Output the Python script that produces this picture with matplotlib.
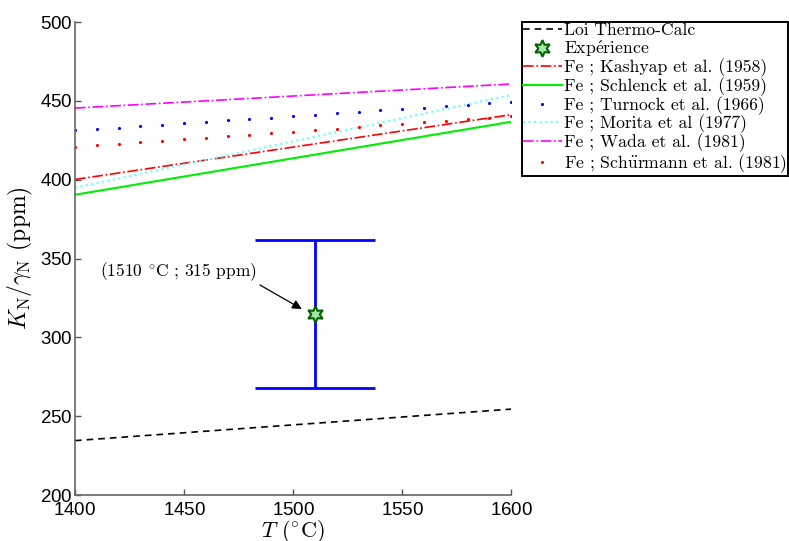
import numpy as np
import matplotlib
matplotlib.use("Agg")
import matplotlib.pyplot as plt

plt.rcParams['mathtext.fontset'] = 'cm'
plt.rcParams['axes.formatter.use_mathtext'] = True

# ---- data ----
T_line = [1400, 1600]
thermo_calc = [234.5, 254.5]
kashyap = [400.2, 441.3]
schlenck = [390.5, 436.8]
morita = [395.0, 453.8]
wada = [445.5, 460.8]
T_dots = list(range(1400, 1601, 10))
turnock_end = [431.3, 449.5]
schurmann_end = [420.8, 440.3]
exp_T = [1510]
exp_K = [315]
exp_err_low = [47]
exp_err_high = [47]
xticks = [1400, 1450, 1500, 1550, 1600]
yticks = [200, 250, 300, 350, 400, 450, 500]

turnock = np.interp(T_dots, T_line, turnock_end)
schurmann = np.interp(T_dots, T_line, schurmann_end)

serif = ['cmr10', 'DejaVu Serif']

fig = plt.figure(figsize=(7.89, 5.41), dpi=100)
ax = fig.add_axes([0.095, 0.085, 0.553, 0.874])

h1, = ax.plot(T_line, thermo_calc, '--', color='black', lw=1.2, dashes=(4, 3),
              label='Loi Thermo-Calc')
ax.errorbar(exp_T, exp_K, yerr=[exp_err_low, exp_err_high], fmt='none',
            ecolor='blue', elinewidth=2, capsize=43, capthick=2, zorder=3)
h2, = ax.plot(exp_T, exp_K, linestyle='none', marker=(6, 1, 0), markersize=12,
              markerfacecolor='#a8e6a8', markeredgecolor='#006400', markeredgewidth=1.5,
              zorder=4, label='Exp$\\acute{\\mathrm{e}}$rience')
h3, = ax.plot(T_line, kashyap, '-.', color='red', lw=1.2, label='Fe ; Kashyap et al. (1958)')
h4, = ax.plot(T_line, schlenck, '-', color='#00ee00', lw=1.5, label='Fe ; Schlenck et al. (1959)')
h5, = ax.plot(T_dots, turnock, linestyle='none', marker='.', markersize=2.5, color='blue',
              label='Fe ; Turnock et al. (1966)')
h6, = ax.plot(T_line, morita, ':', color='#66ffff', lw=1.5, label='Fe ; Morita et al (1977)')
h7, = ax.plot(T_line, wada, '-.', color='magenta', lw=1.2, label='Fe ; Wada et al. (1981)')
h8, = ax.plot(T_dots, schurmann, linestyle='none', marker='.', markersize=2.5, color='red',
              label='Fe ; Sch$\\ddot{\\mathrm{u}}$rmann et al. (1981)')

ax.annotate('(1510 $^{\\circ}$C ; 315 ppm)', xy=(1504, 318), xytext=(1483.5, 341.5),
            ha='right', va='center', fontsize=12.5, family=serif,
            arrowprops=dict(arrowstyle='-|>', color='black', lw=0.9, mutation_scale=14,
                            shrinkA=0, shrinkB=0, relpos=(1.0, 0.0)))

ax.set_xlim(1400, 1600)
ax.set_ylim(200, 500)
ax.set_xticks(xticks)
ax.set_yticks(yticks)
ax.tick_params(direction='in', length=4, width=1, colors='#555555', labelcolor='black',
               labelsize=13.5, pad=2)
ax.tick_params(axis='x', pad=5)
for lab in ax.get_xticklabels() + ax.get_yticklabels():
    lab.set_family(['Liberation Sans', 'DejaVu Sans'])
for s in ['top', 'right']:
    ax.spines[s].set_visible(False)
for s in ['left', 'bottom']:
    ax.spines[s].set_color('#666666')
    ax.spines[s].set_linewidth(1.2)

ax.set_xlabel('$T$ ($^{\\circ}$C)', fontsize=16, family=serif, labelpad=-1)
ax.set_ylabel('$K_{\\mathrm{N}}/\\gamma_{\\mathrm{N}}$ (ppm)', fontsize=17, family=serif, labelpad=3)

leg = fig.legend(handles=[h1, h2, h3, h4, h5, h6, h7, h8], loc='upper left',
                 bbox_to_anchor=(522 / 789, 1 - 22 / 541), frameon=True, fancybox=False,
                 edgecolor='black', framealpha=1, borderpad=0.05, labelspacing=0.0,
                 handlelength=2.2, handletextpad=0.15, borderaxespad=0,
                 prop={'family': serif, 'size': 12.7})
leg.get_frame().set_linewidth(1.4)

fig.savefig('out.png', dpi=100)
